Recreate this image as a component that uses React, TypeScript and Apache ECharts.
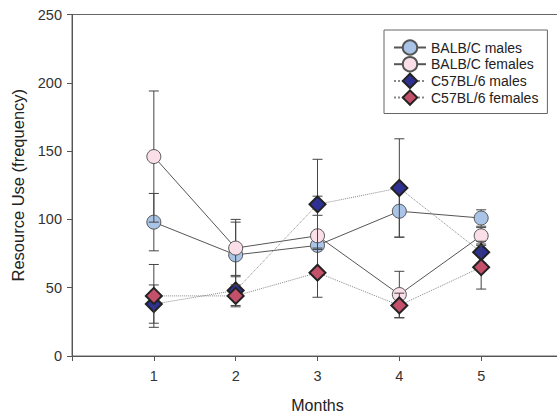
import React, { useEffect, useRef } from "react";
import * as echarts from "echarts";

const months = [1, 2, 3, 4, 5];
const balbMales = [98, 74, 81, 106, 101];
const balbMalesErr = [21, 24, 22, 19, 6];
const balbFemales = [146, 79, 88, 45, 88];
const balbFemalesErr = [48, 21, 29, 17, 6];
const c57Males = [38, 48, 111, 123, 76];
const c57MalesErr = [14, 11, 33, 36, 8];
const c57Females = [44, 44, 61, 37, 65];
const c57FemalesErr = [23, 8, 18, 9, 16];
const yTicks = [0, 50, 100, 150, 200, 250];

const FONT = "Liberation Sans, Arial, sans-serif";

function errSeries(vals: number[], errs: number[], z: number) {
  return {
    type: "custom",
    z,
    silent: true,
    data: months.map((m, i) => [m, vals[i] - errs[i], vals[i] + errs[i]]),
    encode: { x: 0, y: [1, 2] },
    renderItem: (params: any, api: any) => {
      const x = api.value(0);
      const lo = api.coord([x, api.value(1)]);
      const hi = api.coord([x, api.value(2)]);
      const hw = 5;
      const style = { stroke: "#444", lineWidth: 1 };
      return {
        type: "group",
        children: [
          { type: "line", shape: { x1: lo[0], y1: lo[1], x2: hi[0], y2: hi[1] }, style },
          { type: "line", shape: { x1: lo[0] - hw, y1: lo[1], x2: lo[0] + hw, y2: lo[1] }, style },
          { type: "line", shape: { x1: hi[0] - hw, y1: hi[1], x2: hi[0] + hw, y2: hi[1] }, style },
        ],
      };
    },
  };
}

function lineSeries(name: string, vals: number[], opts: any) {
  return {
    type: "line",
    name,
    z: opts.z,
    data: months.map((m, i) => [m, vals[i]]),
    symbol: opts.symbol,
    symbolSize: opts.symbolSize,
    lineStyle: { color: opts.lineColor, width: 1, type: opts.lineType },
    itemStyle: { color: opts.fill, borderColor: opts.border, borderWidth: opts.borderWidth },
  };
}

export default function App() {
  const ref = useRef<HTMLDivElement>(null);
  useEffect(() => {
    if (!ref.current) return;
    const chart = echarts.init(ref.current, undefined, { renderer: "svg" });
    chart.setOption({
      animation: false,
      backgroundColor: "#fff",
      textStyle: { fontFamily: FONT },
      grid: {
        left: 72,
        right: 12,
        top: 14.5,
        bottom: 59,
        show: true,
        borderColor: "#666",
        borderWidth: 1,
      },
      legend: {
        left: 384,
        top: 30,
        orient: "vertical",
        itemWidth: 32,
        itemHeight: 18,
        itemGap: 0.3,
        padding: [9.3, 9, 7.7, 9],
        borderColor: "#666",
        borderWidth: 1,
        textStyle: { fontFamily: FONT, fontSize: 14, lineHeight: 14, color: "#222" },
        data: ["BALB/C males", "BALB/C females", "C57BL/6 males", "C57BL/6 females"],
      },
      xAxis: {
        type: "value",
        min: 0,
        max: 6,
        interval: 1,
        name: "Months",
        nameLocation: "middle",
        nameGap: 41,
        nameTextStyle: { fontFamily: FONT, fontSize: 16, color: "#222" },
        axisLine: { show: true, lineStyle: { color: "#555", width: 1 } },
        axisTick: { show: true, length: 5, lineStyle: { color: "#555" } },
        axisLabel: {
          margin: 12,
          fontFamily: FONT,
          fontSize: 14.5,
          color: "#333",
          formatter: (v: number) => (v >= 1 && v <= 5 ? String(v) : ""),
        },
        splitLine: { show: false },
      },
      yAxis: {
        type: "value",
        min: yTicks[0],
        max: yTicks[yTicks.length - 1],
        interval: 50,
        name: "Resource Use (frequency)",
        nameLocation: "middle",
        nameGap: 45,
        nameTextStyle: { fontFamily: FONT, fontSize: 16.5, color: "#222" },
        axisLine: { show: true, lineStyle: { color: "#555", width: 1 } },
        axisTick: { show: true, length: 5, lineStyle: { color: "#555" } },
        axisLabel: { margin: 10, fontFamily: FONT, fontSize: 14.5, color: "#333" },
        splitLine: { show: false },
      },
      series: [
        errSeries(balbMales, balbMalesErr, 2),
        lineSeries("BALB/C males", balbMales, {
          z: 3, symbol: "circle", symbolSize: 14, lineColor: "#555", lineType: "solid",
          fill: "#a9c4e6", border: "#555", borderWidth: 1,
        }),
        errSeries(balbFemales, balbFemalesErr, 4),
        lineSeries("BALB/C females", balbFemales, {
          z: 5, symbol: "circle", symbolSize: 14, lineColor: "#555", lineType: "solid",
          fill: "#fbdfe8", border: "#555", borderWidth: 1,
        }),
        errSeries(c57Males, c57MalesErr, 6),
        lineSeries("C57BL/6 males", c57Males, {
          z: 7, symbol: "diamond", symbolSize: 16, lineColor: "#888", lineType: "dotted",
          fill: "#2e3192", border: "#222", borderWidth: 2,
        }),
        errSeries(c57Females, c57FemalesErr, 8),
        lineSeries("C57BL/6 females", c57Females, {
          z: 9, symbol: "diamond", symbolSize: 16, lineColor: "#888", lineType: "dotted",
          fill: "#c4506a", border: "#222", borderWidth: 2,
        }),
      ],
    });
    return () => chart.dispose();
  }, []);
  return (
    <div style={{ position: "absolute", left: 0, top: 0, width: 557, height: 418, overflow: "hidden", background: "#fff" }}>
      <div ref={ref} style={{ width: 575, height: 418 }} />
    </div>
  );
}
